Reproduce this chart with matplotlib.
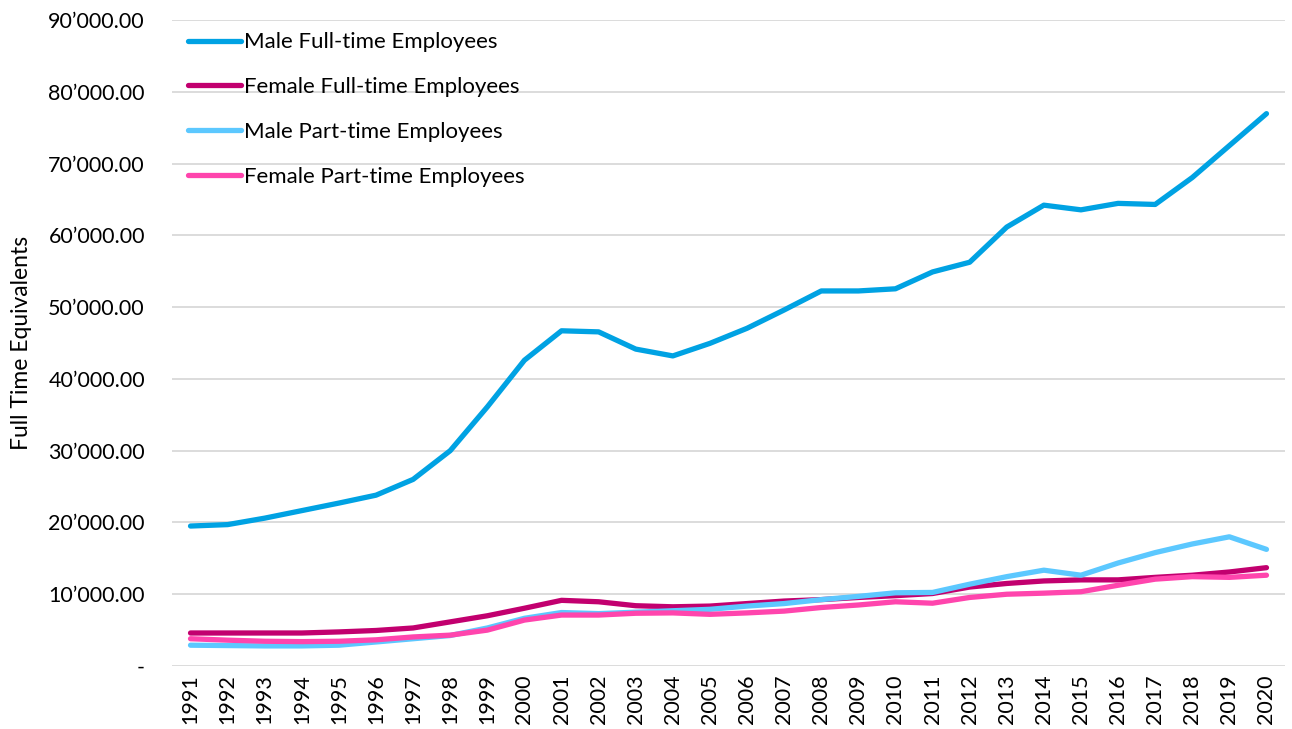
import matplotlib
matplotlib.use("Agg")
import matplotlib.pyplot as plt
from matplotlib.ticker import FuncFormatter, MultipleLocator

plt.rcParams['font.family'] = ['Lato', 'DejaVu Sans']

# full time equivalents per year
years = list(range(1991, 2021))

male_full = [19500, 19700, 20600, 21650, 22700, 23800, 26000, 30000, 36100, 42600,
             46700, 46550, 44150, 43200, 44950, 47050, 49600, 52250, 52250, 52550,
             54900, 56250, 61150, 64200, 63550, 64450, 64300, 68050, 72500, 76950]
female_full = [4600, 4600, 4600, 4600, 4750, 4950, 5300, 6150, 7000, 8050,
               9150, 8950, 8400, 8250, 8350, 8700, 9050, 9250, 9550, 9800,
               10100, 11000, 11500, 11850, 12000, 12000, 12350, 12650, 13100, 13700]
male_part = [2900, 2850, 2800, 2800, 2900, 3350, 3800, 4250, 5300, 6650,
             7450, 7300, 7500, 7700, 7900, 8350, 8700, 9250, 9700, 10200,
             10250, 11400, 12450, 13350, 12650, 14350, 15800, 17000, 18000, 16250]
female_part = [3800, 3600, 3450, 3400, 3450, 3650, 4050, 4300, 5000, 6400,
               7100, 7100, 7350, 7400, 7200, 7400, 7650, 8150, 8500, 8950,
               8750, 9550, 10000, 10150, 10350, 11250, 12100, 12450, 12350, 12650]

series = [
    ("Male Full-time Employees", male_full, "#00A2E3"),
    ("Female Full-time Employees", female_full, "#C2006F"),
    ("Male Part-time Employees", male_part, "#5CC8FF"),
    ("Female Part-time Employees", female_part, "#FF45AD"),
]


def fmt_val(v, pos):
    # swiss style thousands separator, zero shown as a dash
    if abs(v) < 1e-9:
        return "-"
    s = f"{v:,.2f}"
    return s.replace(",", "\u2019")


fig = plt.figure(figsize=(12.92, 7.29), dpi=100)
ax = fig.add_axes([0.1331, 0.0864, 0.9946 - 0.1331, 0.9726 - 0.0864])

for name, vals, col in series:
    ax.plot(years, vals, color=col, lw=3.8, label=name,
            solid_capstyle='round', solid_joinstyle='round', zorder=3)

ax.set_xlim(1990.5, 2020.5)
ax.set_ylim(0, 90000)
ax.yaxis.set_major_locator(MultipleLocator(10000))
ax.yaxis.set_major_formatter(FuncFormatter(fmt_val))
ax.set_xticks(years)
ax.set_xticklabels([str(y) for y in years], rotation=90)

ax.grid(axis='y', color='#D9D9D9', lw=1.3, zorder=0)
for sp in ax.spines.values():
    sp.set_visible(False)
ax.tick_params(axis='both', length=0, labelsize=15.5, colors='black')
ax.tick_params(axis='y', pad=19.5)
ax.tick_params(axis='x', pad=6)

ax.set_ylabel("Full Time Equivalents", fontsize=16.5, labelpad=12)

leg = ax.legend(loc='upper left', bbox_to_anchor=(0.0, 1.005), frameon=False,
                fontsize=16, handlelength=2.4, handletextpad=0.15,
                labelspacing=1.12, borderaxespad=0.3)

fig.savefig("out.png", dpi=100)
